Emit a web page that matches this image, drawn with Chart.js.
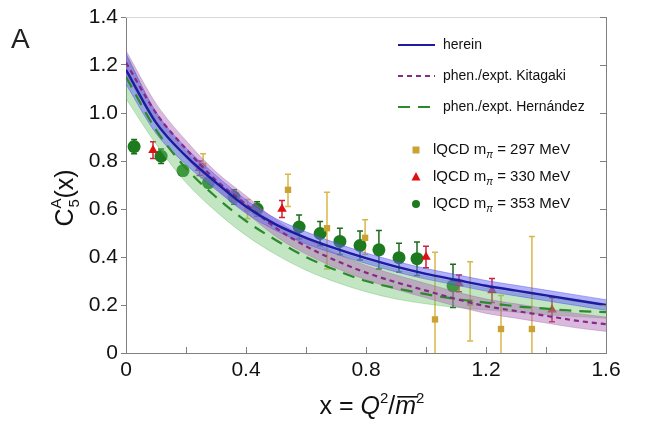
<!DOCTYPE html>
<html>
<head>
<meta charset="utf-8">
<script src="https://cdn.jsdelivr.net/npm/chart.js@4.4.1/dist/chart.umd.min.js"></script>
<style>
  body { margin: 0; background: #fff; }
  #wrap { width: 653px; height: 429px; }
</style>
</head>
<body>
<div id="wrap"><canvas id="chart" width="653" height="429"></canvas></div>
<script>
// x grid for the model curves
const xGrid = [0, 0.1, 0.2, 0.3, 0.4, 0.5, 0.6, 0.7, 0.8, 0.9, 1.0, 1.1, 1.2, 1.3, 1.4, 1.5, 1.6];

// herein (solid blue) with its band
const hereinMid = [1.18, 0.96, 0.82, 0.71, 0.61, 0.535, 0.48, 0.435, 0.395, 0.36, 0.33, 0.305, 0.28, 0.26, 0.24, 0.22, 0.20];
const hereinHi  = [1.245, 1.005, 0.855, 0.74, 0.638, 0.56, 0.505, 0.458, 0.417, 0.382, 0.352, 0.327, 0.302, 0.282, 0.262, 0.242, 0.222];
const hereinLo  = [1.12, 0.915, 0.785, 0.68, 0.582, 0.51, 0.455, 0.412, 0.373, 0.338, 0.308, 0.283, 0.258, 0.238, 0.218, 0.198, 0.178];

// phen./expt. Kitagaki (purple dashed)
const kitagakiMid = [1.21, 1.00, 0.85, 0.72, 0.62, 0.52, 0.445, 0.385, 0.335, 0.295, 0.26, 0.225, 0.195, 0.175, 0.155, 0.135, 0.12];
const kitagakiHi  = [1.26, 1.04, 0.885, 0.755, 0.655, 0.555, 0.478, 0.416, 0.365, 0.325, 0.29, 0.255, 0.225, 0.205, 0.185, 0.165, 0.15];
const kitagakiLo  = [1.16, 0.96, 0.815, 0.685, 0.585, 0.485, 0.412, 0.354, 0.305, 0.265, 0.23, 0.195, 0.165, 0.145, 0.125, 0.105, 0.09];

// phen./expt. Hernandez (green long dashes)
const hernandezMid = [1.15, 0.93, 0.77, 0.65, 0.55, 0.47, 0.40, 0.345, 0.30, 0.27, 0.245, 0.225, 0.21, 0.195, 0.185, 0.175, 0.17];
const hernandezHi  = [1.25, 1.0, 0.84, 0.72, 0.62, 0.54, 0.475, 0.425, 0.385, 0.35, 0.32, 0.295, 0.27, 0.25, 0.232, 0.215, 0.20];
const hernandezLo  = [1.06, 0.87, 0.71, 0.59, 0.49, 0.41, 0.345, 0.295, 0.255, 0.225, 0.205, 0.19, 0.18, 0.17, 0.16, 0.152, 0.145];

// lQCD m_pi = 297 MeV (gold squares)
const m297X  = [0.257, 0.405, 0.54, 0.67, 0.797, 1.03, 1.147, 1.25, 1.353];
const m297Y  = [0.78, 0.60, 0.68, 0.52, 0.48, 0.14, 0.21, 0.10, 0.10];
const m297Up = [0.05, 0.04, 0.065, 0.15, 0.075, 0.28, 0.17, 0.14, 0.385];
const m297Dn = [0.05, 0.04, 0.07, 0.17, 0.07, 0.28, 0.16, 0.14, 0.14];

// lQCD m_pi = 330 MeV (red triangles)
const m330X  = [0.09, 0.245, 0.52, 1.0, 1.11, 1.22, 1.42];
const m330Y  = [0.845, 0.77, 0.60, 0.40, 0.29, 0.26, 0.18];
const m330Err = [0.035, 0.03, 0.035, 0.045, 0.035, 0.05, 0.05];

// lQCD m_pi = 353 MeV (green circles)
const m353X  = [0.027, 0.117, 0.19, 0.275, 0.36, 0.437, 0.577, 0.647, 0.713, 0.78, 0.843, 0.91, 0.97, 1.09];
const m353Y  = [0.86, 0.82, 0.76, 0.71, 0.65, 0.60, 0.525, 0.498, 0.465, 0.448, 0.43, 0.397, 0.393, 0.28];
const m353Err = [0.03, 0.03, 0.02, 0.02, 0.03, 0.03, 0.05, 0.05, 0.055, 0.06, 0.08, 0.06, 0.07, 0.09];

const FONT = "'Liberation Sans', Arial, sans-serif";

const toPts = (xs, ys) => xs.map((x, i) => ({ x: x, y: ys[i] }));

function curve(ys, color, dash, width, order) {
    return {
        data: toPts(xGrid, ys), borderColor: color, borderWidth: width, borderDash: dash,
        pointRadius: 0, fill: false, cubicInterpolationMode: 'monotone', order: order
    };
}

function band(ys, edge, fillTo, fillColor, order) {
    const ds = curve(ys, edge, [], 0.8, order);
    if (fillTo !== null) {
        ds.fill = { target: fillTo };
        ds.backgroundColor = fillColor;
    }
    return ds;
}

function points(xs, ys, style, radius, color, up, dn, barColor) {
    return {
        data: toPts(xs, ys), showLine: false, pointStyle: style, pointRadius: radius,
        pointBackgroundColor: color, pointBorderColor: color, pointBorderWidth: 0,
        errUp: up, errDn: dn, barColor: barColor, order: 20
    };
}

// error bars, drawn under everything through the chart scales
const errorBars = {
    id: 'errorBars',
    beforeDatasetsDraw(chart) {
        const { ctx, chartArea, scales } = chart;
        ctx.save();
        ctx.beginPath();
        ctx.rect(chartArea.left, chartArea.top, chartArea.right - chartArea.left, chartArea.bottom - chartArea.top);
        ctx.clip();
        chart.data.datasets.forEach(ds => {
            if (!ds.errUp) return;
            ctx.strokeStyle = ds.barColor;
            ctx.lineWidth = 1.5;
            ds.data.forEach((p, i) => {
                const px = scales.x.getPixelForValue(p.x);
                const top = scales.y.getPixelForValue(p.y + ds.errUp[i]);
                const bot = scales.y.getPixelForValue(p.y - ds.errDn[i]);
                ctx.beginPath();
                ctx.moveTo(px, top); ctx.lineTo(px, bot);
                ctx.moveTo(px - 3, top); ctx.lineTo(px + 3, top);
                ctx.moveTo(px - 3, bot); ctx.lineTo(px + 3, bot);
                ctx.stroke();
            });
        });
        ctx.restore();
    }
};

// frame, inner ticks, titles, legend
const decorations = {
    id: 'decorations',
    afterDraw(chart) {
        const { ctx, chartArea: a, scales } = chart;
        ctx.save();
        ctx.strokeStyle = '#808080';
        ctx.lineWidth = 1;
        ctx.beginPath();
        ctx.moveTo(a.right + 0.5, a.top); ctx.lineTo(a.right + 0.5, a.bottom);
        ctx.stroke();
        ctx.strokeStyle = '#d8d8d8';
        ctx.beginPath();
        ctx.moveTo(a.left, a.top + 0.5); ctx.lineTo(a.right, a.top + 0.5);
        ctx.stroke();
        ctx.strokeStyle = '#808080';
        ctx.beginPath();
        scales.x.ticks.forEach(t => {
            const px = Math.round(scales.x.getPixelForValue(t.value)) + 0.5;
            ctx.moveTo(px, a.bottom); ctx.lineTo(px, a.bottom - 6);
        });
        scales.y.ticks.forEach(t => {
            const py = Math.round(scales.y.getPixelForValue(t.value)) + 0.5;
            ctx.moveTo(a.right, py); ctx.lineTo(a.right - 6, py);
        });
        ctx.stroke();

        // panel letter
        ctx.fillStyle = '#222';
        ctx.font = '28px ' + FONT;
        ctx.textBaseline = 'alphabetic';
        ctx.textAlign = 'left';
        ctx.fillText('A', 11, 48);

        // x title: x = Q^2 / m-bar^2
        ctx.fillStyle = '#111';
        const big = '25px ' + FONT, ital = 'italic 25px ' + FONT, sup = '15px ' + FONT;
        const parts = [['x = ', big, 0], ['Q', ital, 0], ['2', sup, -11], ['/', big, 0], ['m', ital, 0], ['2', sup, -11]];
        let w = 0;
        parts.forEach(p => { ctx.font = p[1]; w += ctx.measureText(p[0]).width; });
        let cx = 372 - w / 2;
        const by = 414;
        parts.forEach(p => {
            ctx.font = p[1];
            const pw = ctx.measureText(p[0]).width;
            ctx.fillText(p[0], cx, by + p[2]);
            if (p[0] === 'm') {
                ctx.fillRect(cx + 2, by - 18, pw, 1.6);
            }
            cx += pw;
        });

        // y title: C_5^A(x)
        ctx.save();
        ctx.translate(73, 198);
        ctx.rotate(-Math.PI / 2);
        ctx.font = big; const wc = ctx.measureText('C').width;
        ctx.font = sup; const ws = ctx.measureText('A').width;
        ctx.font = big; const wx = ctx.measureText('(x)').width;
        let yx = -(wc + ws + wx) / 2;
        ctx.font = big; ctx.fillText('C', yx, 0); yx += wc;
        ctx.font = sup; ctx.fillText('A', yx, -12); ctx.fillText('5', yx + 1, 6); yx += ws;
        ctx.font = big; ctx.fillText('(x)', yx, 0);
        ctx.restore();

        // legend
        const lines = [
            ['herein', '#1c1c9e', [], 45],
            ['phen./expt. Kitagaki', '#872a86', [5, 4], 76],
            ['phen./expt. Hern\u00e1ndez', '#2b8a2b', [12, 8], 107]
        ];
        ctx.font = '14px ' + FONT;
        ctx.textBaseline = 'middle';
        lines.forEach(l => {
            ctx.strokeStyle = l[1];
            ctx.lineWidth = 2.2;
            ctx.setLineDash(l[2]);
            ctx.beginPath();
            ctx.moveTo(398, l[3]); ctx.lineTo(435, l[3]);
            ctx.stroke();
            ctx.setLineDash([]);
            ctx.fillStyle = '#111';
            ctx.fillText(l[0], 443, l[3]);
        });
        const marks = [['rect', '#c9a233', '297', 150], ['triangle', '#dd1111', '330', 177], ['circle', '#1e7a1e', '353', 204]];
        marks.forEach(m => {
            ctx.fillStyle = m[1];
            const mx = 416, my = m[3];
            ctx.beginPath();
            if (m[0] === 'rect') ctx.rect(mx - 3.5, my - 3.5, 7, 7);
            else if (m[0] === 'triangle') { ctx.moveTo(mx, my - 5); ctx.lineTo(mx + 4.5, my + 3.5); ctx.lineTo(mx - 4.5, my + 3.5); ctx.closePath(); }
            else ctx.arc(mx, my, 4, 0, Math.PI * 2);
            ctx.fill();
            ctx.fillStyle = '#111';
            ctx.font = '15px ' + FONT;
            let tx = 433;
            ctx.fillText('lQCD m', tx, my); tx += ctx.measureText('lQCD m').width;
            ctx.font = 'italic 10px ' + FONT;
            ctx.fillText('\u03c0', tx, my + 5); tx += ctx.measureText('\u03c0').width;
            ctx.font = '15px ' + FONT;
            ctx.fillText(' = ' + m[2] + ' MeV', tx, my);
        });
        ctx.restore();
    }
};

const datasets = [
    points(m297X, m297Y, 'rect', 4.5, '#c9a233', m297Up, m297Dn, '#d8b84a'),
    points(m330X, m330Y, 'triangle', 5.5, '#dd1111', m330Err, m330Err, '#c8243c'),
    points(m353X, m353Y, 'circle', 6.5, '#1e7a1e', m353Err, m353Err, '#1e6a1e'),
    band(hernandezHi, 'rgba(60,160,60,0.35)', null, null, 9),
    band(hernandezLo, 'rgba(60,160,60,0.35)', 3, 'rgba(110,195,110,0.42)', 9),
    band(kitagakiHi, 'rgba(150,70,150,0.35)', null, null, 8),
    band(kitagakiLo, 'rgba(150,70,150,0.35)', 5, 'rgba(170,100,180,0.45)', 8),
    band(hereinHi, 'rgba(70,70,230,0.5)', null, null, 7),
    band(hereinLo, 'rgba(70,70,230,0.5)', 7, 'rgba(100,100,245,0.5)', 7),
    curve(hernandezMid, '#2b8a2b', [12, 8], 2.2, 3),
    curve(kitagakiMid, '#872a86', [5, 4], 2.2, 2),
    curve(hereinMid, '#1c1c9e', [], 2.4, 1)
];

new Chart(document.getElementById('chart'), {
    type: 'line',
    data: { datasets: datasets },
    options: {
        responsive: false,
        animation: false,
        layout: { padding: { left: 0, top: 17, right: 47, bottom: 0 } },
        plugins: { legend: { display: false }, tooltip: { enabled: false } },
        scales: {
            x: {
                type: 'linear', min: 0, max: 1.6,
                afterFit: s => { s.height = 76; },
                border: { color: '#808080' },
                grid: { display: true, drawOnChartArea: false, drawTicks: false },
                ticks: {
                    stepSize: 0.2, padding: 5, color: '#111', maxRotation: 0, autoSkip: false,
                    font: { family: FONT, size: 21 },
                    callback: v => {
                        const k = Math.round(v / 0.2);
                        if (k % 2) return '';
                        return k === 0 ? '0' : (k * 0.2).toFixed(1);
                    }
                }
            },
            y: {
                type: 'linear', min: 0, max: 1.4,
                afterFit: s => { s.width = 126; },
                border: { color: '#808080' },
                grid: { drawOnChartArea: false, tickLength: 5, color: '#808080' },
                ticks: {
                    stepSize: 0.2, padding: 3, color: '#111',
                    font: { family: FONT, size: 21 },
                    callback: v => v === 0 ? '0' : v.toFixed(1)
                }
            }
        }
    },
    plugins: [errorBars, decorations]
});
</script>
</body>
</html>
